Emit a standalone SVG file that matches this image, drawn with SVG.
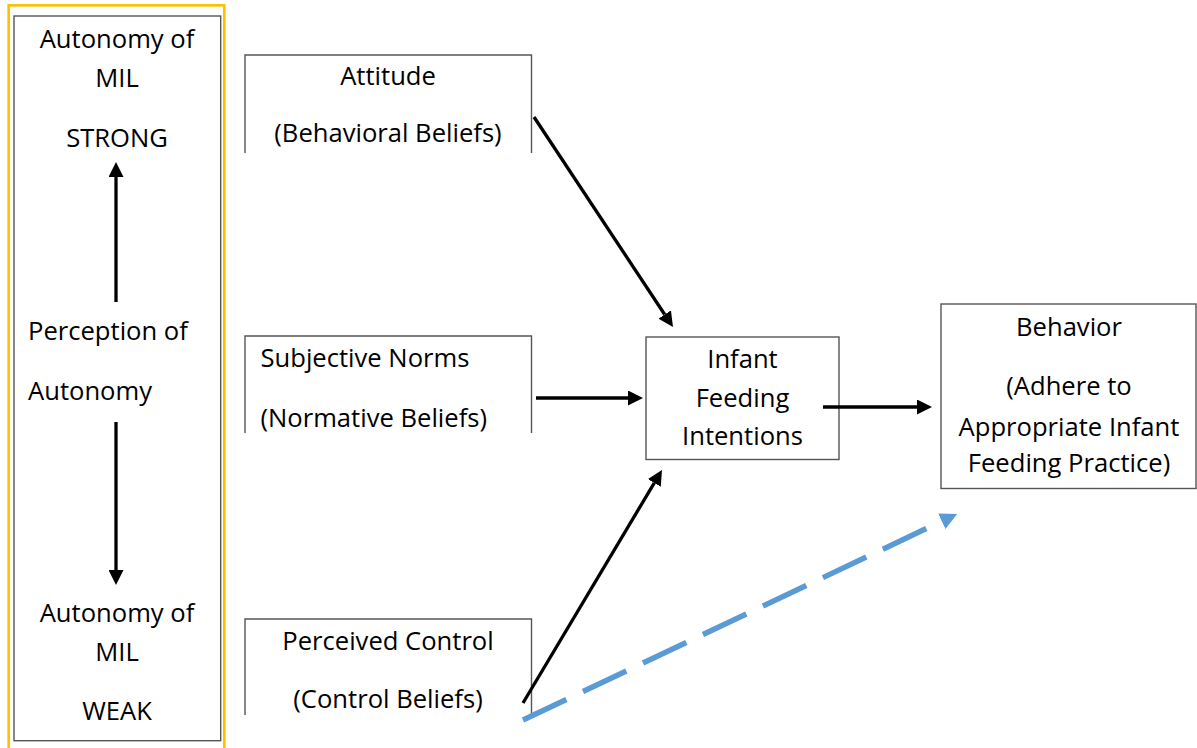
<svg xmlns="http://www.w3.org/2000/svg" width="1197" height="748" viewBox="0 0 1197 748">
  <style>
    .t { font-family: "Open Sans", "Liberation Sans", sans-serif; font-size: 25.6px; fill: #000; }
    .c { text-anchor: middle; }
    .box { fill: none; stroke: #555; stroke-width: 1.4; }
    .arr { fill: none; stroke: #000; stroke-width: 3.3; marker-end: url(#ah); }
    .dash { fill: none; stroke: #5B9BD5; stroke-width: 5.5; stroke-dasharray: 48 18.4; marker-end: url(#bh); }
  </style>
  <defs>
    <marker id="ah" markerUnits="userSpaceOnUse" viewBox="0 0 15 15" markerWidth="15" markerHeight="15" refX="0" refY="7.5" orient="auto">
      <path d="M0,0 L15,7.5 L0,15 z" fill="#000"/>
    </marker>
    <marker id="bh" markerUnits="userSpaceOnUse" viewBox="0 0 17 17" markerWidth="17" markerHeight="17" refX="0" refY="8.5" orient="auto">
      <path d="M0,0 L17,8.5 L0,17 z" fill="#5B9BD5"/>
    </marker>
    <clipPath id="c1"><rect x="240" y="50" width="300" height="103"/></clipPath>
    <clipPath id="c2"><rect x="240" y="330" width="300" height="103"/></clipPath>
    <clipPath id="c3"><rect x="240" y="612" width="300" height="103"/></clipPath>
  </defs>
  <rect width="1197" height="748" fill="#fff"/>

  <g id="autonomy">
    <rect x="8.7" y="5.3" width="215.6" height="770" fill="none" stroke="#FFC000" stroke-width="2.7"/>
    <rect x="14" y="16" width="206.7" height="724.7" class="box"/>
    <text class="t c" x="117" y="48">Autonomy of</text>
    <text class="t c" x="117" y="87">MIL</text>
    <text class="t c" x="117" y="147">STRONG</text>
    <text class="t" x="28" y="340">Perception of</text>
    <text class="t" x="28" y="400">Autonomy</text>
    <text class="t c" x="117" y="622">Autonomy of</text>
    <text class="t c" x="117" y="661">MIL</text>
    <text class="t c" x="117" y="720">WEAK</text>
  </g>

  <g id="attitude">
    <path d="M245,153 V55 H531.5 V153" class="box"/>
    <g clip-path="url(#c1)">
      <text class="t c" x="388" y="85">Attitude</text>
      <text class="t c" x="388" y="142">(Behavioral Beliefs)</text>
    </g>
  </g>

  <g id="subjective-norms">
    <path d="M245,433 V336 H531.5 V433" class="box"/>
    <g clip-path="url(#c2)">
      <text class="t" x="260.5" y="367">Subjective Norms</text>
      <text class="t" x="260.5" y="427">(Normative Beliefs)</text>
    </g>
  </g>

  <g id="perceived-control">
    <path d="M245,715 V619 H531.5 V715" class="box"/>
    <g clip-path="url(#c3)">
      <text class="t c" x="388" y="650">Perceived Control</text>
      <text class="t c" x="388" y="708">(Control Beliefs)</text>
    </g>
  </g>

  <g id="intentions">
    <rect x="646" y="337" width="193" height="122.5" class="box"/>
    <text class="t c" x="742.5" y="368">Infant</text>
    <text class="t c" x="742.5" y="407">Feeding</text>
    <text class="t c" x="742.5" y="445">Intentions</text>
  </g>

  <g id="behavior">
    <rect x="941" y="304" width="255" height="184.5" class="box"/>
    <text class="t c" x="1069" y="336">Behavior</text>
    <text class="t c" x="1069" y="395">(Adhere to</text>
    <text class="t c" x="1069" y="436">Appropriate Infant</text>
    <text class="t c" x="1069" y="472">Feeding Practice)</text>
  </g>

  <g id="connectors">
    <line x1="116" y1="302" x2="116" y2="177" class="arr"/>
    <line x1="116" y1="422" x2="116" y2="570" class="arr"/>
    <line x1="534" y1="117" x2="664.7" y2="314.5" class="arr"/>
    <line x1="536" y1="398" x2="628" y2="398" class="arr"/>
    <line x1="823" y1="407" x2="917" y2="407" class="arr"/>
    <line x1="523" y1="703" x2="654.3" y2="482.9" class="arr"/>
    <line x1="523" y1="720" x2="941.8" y2="521.2" class="dash"/>
  </g>
</svg>
